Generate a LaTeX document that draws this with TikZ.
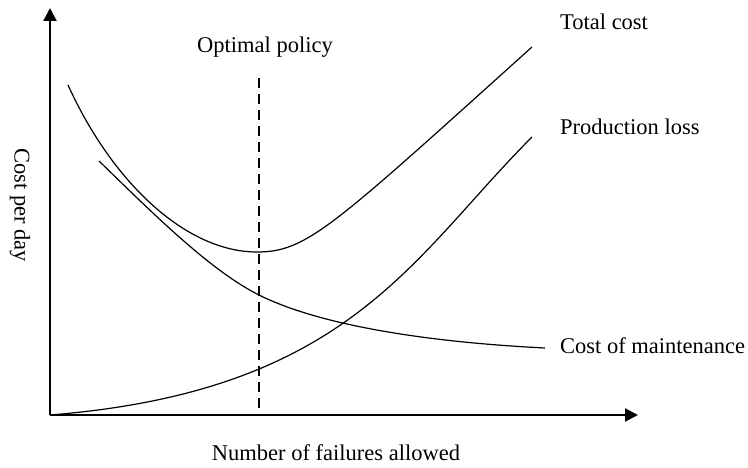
\documentclass[tikz,border=0pt]{standalone}
\usepackage{fontspec}
\setmainfont{Liberation Serif}
\usetikzlibrary{arrows.meta, positioning}

\begin{document}
\begin{tikzpicture}[
		x=1pt, y=-1pt,
		axis/.style={line width=2.2pt, -{Triangle[length=13pt, width=13pt]}},
		curve/.style={line width=1.2pt},
		policy/.style={line width=1.1pt, dash pattern=on 10pt off 6pt},
		label/.style={inner sep=0pt, font=\fontsize{22.5}{27}\selectfont}
		]
		\useasboundingbox (0,0) rectangle (748,468);
		
		% Axes
		\coordinate (origin) at (50,415);
		\coordinate (ytip) at (50,8);
		\coordinate (xtip) at (638,415);
		\draw[axis] (origin) -- (ytip);
		\draw[axis] (origin) -- (xtip);
		
		% Optimal policy
		\coordinate (opttop) at (259,78);
		\coordinate (optbot) at (259,415);
		\draw[policy] (opttop) -- (optbot);
		\node[label] (optimal) at (265,47) {Optimal policy};
		
		% Curves
		\coordinate (totstart) at (68,85);
		\coordinate (totmin) at (257,252);
		\coordinate (totend) at (532,47);
		\draw[curve] (totstart) .. controls (113,184) and (187,252) .. (totmin)
			.. controls (307,252) and (332,227) .. (totend);
		\coordinate (mntstart) at (99,161);
		\coordinate (mntmid) at (259,295);
		\coordinate (mntend) at (545,348);
		\draw[curve] (mntstart) .. controls (149,209.5) and (209,270) .. (mntmid)
			.. controls (319,325) and (425,342) .. (mntend);
		\coordinate (lossend) at (532,137);
		\draw[curve] (origin) .. controls (350,391) and (412,257) .. (lossend);
		
		% Curve labels
		\node[label, anchor=west] (total) at (560,22) {Total cost};
		\node[label, anchor=west] (loss) at (560,127) {Production loss};
		\node[label, anchor=west] (maint) at (560,346) {Cost of maintenance};
		
		% Axis labels
		\node[label] (xlabel) at (336,453) {Number of failures allowed};
		\node[label, rotate=-90] (ylabel) at (20,205) {Cost per day};
		
	\end{tikzpicture}
\end{document}
